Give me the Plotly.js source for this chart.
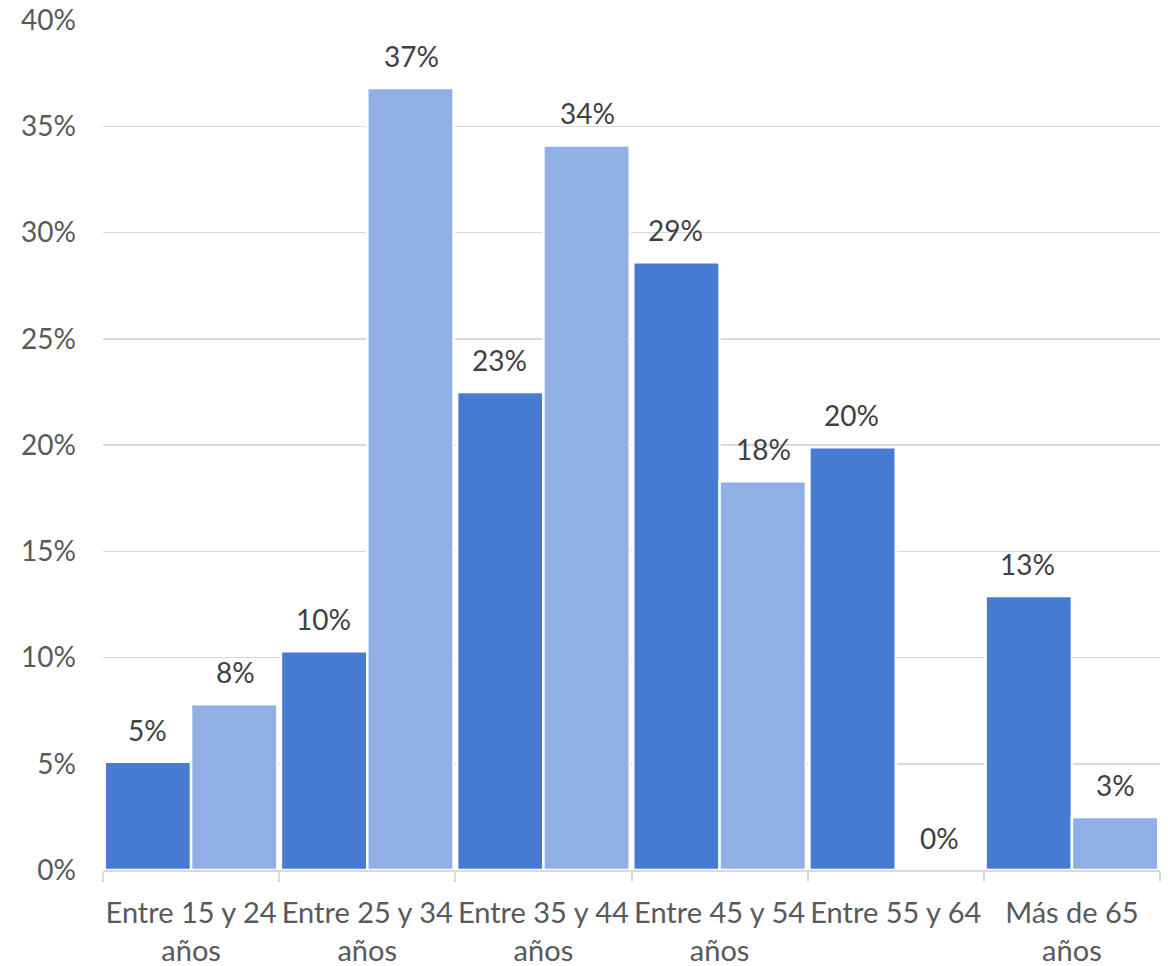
<!DOCTYPE html>
<html>
<head>
<meta charset="utf-8">
<script src="https://cdn.plot.ly/plotly-3.0.1.min.js"></script>
<style>
html,body{margin:0;padding:0;background:#fff;}
#chart{width:1168px;height:966px;}
</style>
</head>
<body>
<div id="chart"></div>
<script>
const categories = ["Entre 15 y 24<br>años", "Entre 25 y 34<br>años", "Entre 35 y 44<br>años", "Entre 45 y 54<br>años", "Entre 55 y 64", "Más de 65<br>años"];
const seriesA = [0.051, 0.103, 0.225, 0.286, 0.199, 0.129];
const seriesB = [0.078, 0.368, 0.341, 0.183, 0.0, 0.025];
const yTicks = [0, 0.05, 0.10, 0.15, 0.20, 0.25, 0.30, 0.35, 0.40];

const FONT = "Lato, 'Open Sans', sans-serif";
const colA = "#477BD1";
const colB = "#90AFE4";

const traces = [
  {type: "bar", name: "A", x: categories, y: seriesA, marker: {color: colA, line: {color: "#ffffff", width: 2.5}}, hoverinfo: "skip"},
  {type: "bar", name: "B", x: categories, y: seriesB, marker: {color: colB, line: {color: "#ffffff", width: 2.5}}, hoverinfo: "skip"}
];

const annotations = [];
function addLabels(vals, shift) {
  vals.forEach((v, i) => {
    annotations.push({
      x: categories[i], y: v, xref: "x", yref: "y",
      text: Math.round(v * 100) + "%",
      showarrow: false, xshift: shift, yshift: 32,
      xanchor: "center", yanchor: "middle",
      font: {family: FONT, size: 28, color: "#404040"}
    });
  });
}
addLabels(seriesA, -44);
addLabels(seriesB, 44);

const layout = {
  width: 1168, height: 966,
  margin: {l: 103, r: 8, t: 20, b: 96},
  paper_bgcolor: "#ffffff", plot_bgcolor: "#ffffff",
  showlegend: false,
  barmode: "group", bargap: 0.02, bargroupgap: 0,
  font: {family: FONT, size: 28, color: "#595959"},
  xaxis: {
    type: "category",
    tickangle: 0,
    showgrid: false,
    showline: true, linecolor: "#d9d9d9", linewidth: 2,
    ticks: "outside", tickson: "boundaries", ticklen: 10, tickcolor: "#d9d9d9", tickwidth: 2,
    tickfont: {family: FONT, size: 29, color: "#595959"},
    ticklabelstandoff: 16,
    fixedrange: true
  },
  yaxis: {
    range: [0, 0.40],
    tickvals: yTicks,
    tickformat: ".0%",
    showgrid: true, gridcolor: "#d9d9d9", gridwidth: 1.5,
    zeroline: false, showline: false, ticks: "",
    tickfont: {family: FONT, size: 28, color: "#595959"},
    ticklabelstandoff: 26,
    fixedrange: true
  },
  annotations: annotations
};

Plotly.newPlot("chart", traces, layout, {displayModeBar: false, staticPlot: true});
</script>
</body>
</html>
